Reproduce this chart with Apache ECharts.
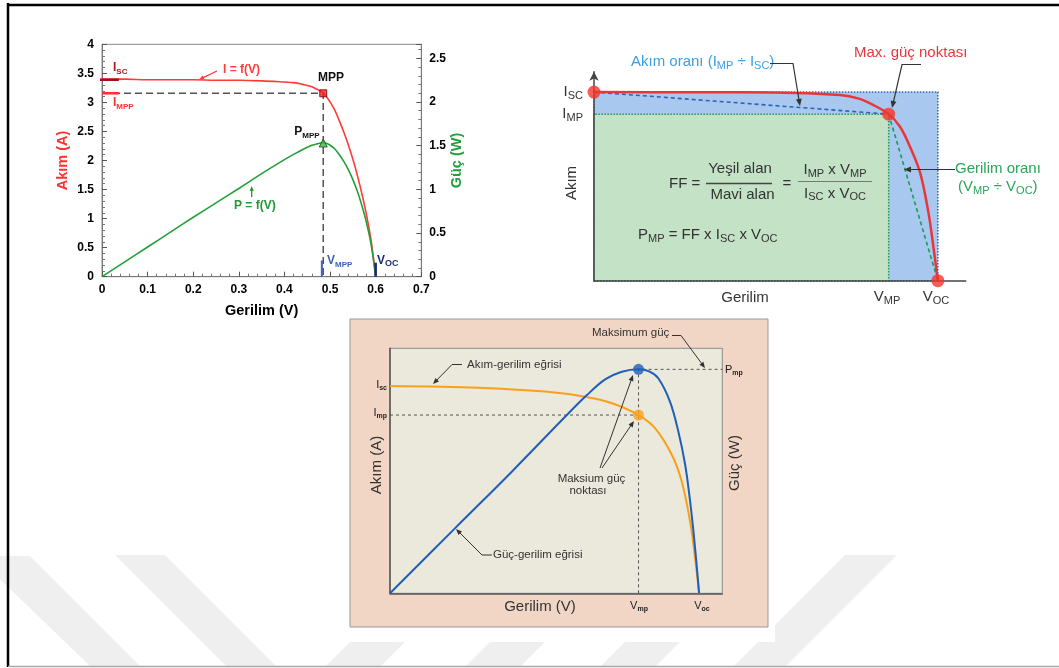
<!DOCTYPE html>
<html>
<head>
<meta charset="utf-8">
<style>
  html, body { margin: 0; padding: 0; background: #fff; }
  #chart { width: 1059px; height: 668px; }
</style>
<script src="https://cdn.jsdelivr.net/npm/echarts@6/dist/echarts.min.js"></script>
</head>
<body>
<div id="chart"></div>
<script>
// --- Grafik 1: ölçülü I-V ve P-V eğrileri ---
const gerilim1 = [0, 0.05, 0.1, 0.15, 0.2, 0.25, 0.3, 0.35, 0.4, 0.42, 0.44, 0.46, 0.47, 0.48, 0.485, 0.49, 0.5, 0.51, 0.52, 0.53, 0.54, 0.55, 0.56, 0.57, 0.58, 0.59, 0.6];
const akim1 = [3.40, 3.40, 3.39, 3.39, 3.39, 3.38, 3.38, 3.37, 3.35, 3.34, 3.31, 3.27, 3.23, 3.19, 3.16, 3.12, 3.01, 2.87, 2.69, 2.49, 2.27, 2.02, 1.74, 1.42, 1.06, 0.62, 0];
const guc1 = [0, 0.17, 0.34, 0.51, 0.68, 0.845, 1.01, 1.18, 1.34, 1.40, 1.456, 1.504, 1.518, 1.531, 1.533, 1.529, 1.505, 1.464, 1.399, 1.32, 1.226, 1.111, 0.974, 0.809, 0.615, 0.366, 0];
const mpp1 = { v: 0.485, i: 3.157, p: 1.53 };
const isc1 = 3.39, voc1 = 0.6;

// --- Grafik 2: doluluk faktörü (birimsiz) ---
const gerilim2 = [0, 0.3, 0.522, 0.716, 0.77, 0.813, 0.857, 0.89, 0.919, 0.949, 0.973, 0.987, 1.0];
const akim2 = [1.0, 0.999, 0.998, 0.984, 0.965, 0.931, 0.883, 0.816, 0.71, 0.569, 0.357, 0.18, 0];
const isc2 = 1.0, voc2 = 1.0, vmp2 = 0.857, imp2 = 0.883;

// --- Grafik 3: akım-gerilim ve güç-gerilim (birimsiz) ---
const gerilim3I = [0, 0.286, 0.502, 0.631, 0.718, 0.804, 0.858, 0.912, 0.944, 0.971, 0.987, 1.0];
const akim3 = [1.0, 0.992, 0.973, 0.948, 0.917, 0.86, 0.796, 0.667, 0.538, 0.345, 0.169, 0];
const gerilim3P = [0, 0.21, 0.394, 0.572, 0.637, 0.696, 0.75, 0.804, 0.84, 0.868, 0.906, 0.933, 0.955, 0.971, 0.985, 1.0];
const guc3 = [0, 0.29, 0.543, 0.796, 0.885, 0.955, 0.989, 1.0, 0.99, 0.96, 0.855, 0.721, 0.573, 0.409, 0.23, 0];
const vmp3 = 0.804, imp3 = 0.86, pmp3 = 1.0;

const FONT = 'Liberation Sans, Arial, sans-serif';

function zip(a, b) { return a.map((v, k) => [v, b[k]]); }

// parça dizisi: [ana, alt, ana, alt, ...]
function rt(parts) {
  return parts.map((t, k) => t ? '{' + (k % 2 ? 's' : 'm') + '|' + t + '}' : '').join('');
}

function txt(x, y, parts, o) {
  o = o || {};
  const fs = o.size || 15, ss = o.sub || Math.round(fs * 0.72);
  const w = o.bold ? 'bold' : 'normal';
  const col = o.color || '#333';
  return {
    type: 'text', x: x, y: y, z: 100, rotation: o.rot || 0,
    style: {
      text: rt(parts), align: o.align || 'left', verticalAlign: 'middle',
      fill: col, fontFamily: FONT, fontSize: fs, fontWeight: w,
      rich: {
        m: { fontSize: fs, fontWeight: w, fill: col, fontFamily: FONT, lineHeight: fs + 3, verticalAlign: 'middle' },
        s: { fontSize: ss, fontWeight: o.subBold ? 'bold' : w, fill: col, fontFamily: FONT, lineHeight: ss - 1, verticalAlign: 'bottom' }
      }
    }
  };
}

function arrow(pts, color, w, head) {
  const h = head || 7, hw = h * 0.42;
  const [x1, y1] = pts[pts.length - 2], [x2, y2] = pts[pts.length - 1];
  const a = Math.atan2(y2 - y1, x2 - x1);
  const c = Math.cos(a), s = Math.sin(a);
  const p1 = [x2 - h * c + hw * s, y2 - h * s - hw * c];
  const p2 = [x2 - h * c - hw * s, y2 - h * s + hw * c];
  const line = pts.slice(0, -1).concat([[x2 - h * 0.8 * c, y2 - h * 0.8 * s]]);
  return [
    { type: 'polyline', z: 100, shape: { points: line }, style: { stroke: color, lineWidth: w || 1.2, fill: null } },
    { type: 'polygon', z: 100, shape: { points: [[x2, y2], p1, p2] }, style: { fill: color } }
  ];
}

function stripe(pts) {
  return { type: 'polygon', z: -10, silent: true, shape: { points: pts }, style: { fill: '#efefef' } };
}

const g = [];
// filigran şeritleri
g.push(stripe([[-24, 556], [30, 556], [141, 667], [91, 667]]));
g.push(stripe([[115, 555], [165, 555], [277, 667], [227, 667]]));
g.push(stripe([[437, 555], [492, 555], [380, 667], [325, 667]]));
g.push(stripe([[577, 555], [632, 555], [520, 667], [465, 667]]));
g.push(stripe([[712, 555], [767, 555], [655, 667], [600, 667]]));
g.push(stripe([[845, 555], [897, 555], [785, 667], [733, 667]]));
// üçüncü resmin beyaz zemini ve kutusu
g.push({ type: 'rect', z: -9, silent: true, shape: { x: 340, y: 312, width: 435, height: 330 }, style: { fill: '#fff' } });
g.push({ type: 'rect', z: -8, silent: true, shape: { x: 350, y: 319, width: 418, height: 308 }, style: { fill: '#f1d6c6', stroke: '#9a9a9a', lineWidth: 1 } });
// çerçeve
g.push({ type: 'line', z: 100, shape: { x1: 8, y1: 3, x2: 8, y2: 667 }, style: { stroke: '#000', lineWidth: 2.5 } });
g.push({ type: 'line', z: 100, shape: { x1: 7, y1: 5, x2: 1059, y2: 5 }, style: { stroke: '#000', lineWidth: 2.5 } });
g.push({ type: 'line', z: 100, shape: { x1: 8, y1: 666.5, x2: 1059, y2: 666.5 }, style: { stroke: '#a8a8a8', lineWidth: 1.5 } });

// Grafik 1 yazıları
g.push(txt(113, 68, ['I', 'SC'], { size: 12, sub: 8, bold: true, color: '#b0161b' }));
g.push(txt(113, 103, ['I', 'MPP'], { size: 12, sub: 8, bold: true, color: '#ff3030' }));
g.push(txt(331, 78, ['MPP'], { size: 12, bold: true, color: '#111', align: 'center' }));
g.push(txt(307, 132, ['P', 'MPP'], { size: 12, sub: 8, bold: true, color: '#111', align: 'center' }));
g.push(txt(223, 70, ['I = f(V)'], { size: 12, bold: true, color: '#ff3b3b' }));
g.push(...arrow([[217, 71], [199, 79.5]], '#ff3b3b', 1.3, 5));
g.push(txt(234, 206, ['P = f(V)'], { size: 12, bold: true, color: '#1f9a35' }));
g.push(...arrow([[251.7, 197], [251.7, 186]], '#1f9a35', 1.3, 5));
g.push(txt(327, 261, ['V', 'MPP'], { size: 12, sub: 8, bold: true, color: '#3b62b8' }));
g.push(txt(377, 261, ['V', 'OC'], { size: 12, sub: 9, bold: true, color: '#1d2f70' }));

// Grafik 2 yazıları
g.push(txt(583, 92, ['I', 'SC'], { align: 'right' }));
g.push(txt(583, 114, ['I', 'MP'], { align: 'right' }));
g.push(txt(571.5, 183, ['Akım'], { rot: Math.PI / 2, align: 'center' }));
g.push(txt(745, 298, ['Gerilim'], { align: 'center' }));
g.push(txt(887, 297, ['V', 'MP'], { align: 'center' }));
g.push(txt(936, 297, ['V', 'OC'], { align: 'center' }));
g.push(txt(631, 62, ['Akım oranı (I', 'MP', ' ÷ I', 'SC', ')'], { color: '#3d9fe0' }));
g.push(...arrow([[770, 63.5], [793, 63.5], [800, 106]], '#333', 1.2, 7));
g.push(txt(854, 53, ['Max. güç noktası'], { color: '#e8373a' }));
g.push(...arrow([[921, 64.5], [902, 64.5], [892, 108]], '#333', 1.2, 7));
g.push(txt(955, 169, ['Gerilim oranı'], { color: '#2aa55a' }));
g.push(txt(958, 187, ['(V', 'MP', ' ÷ V', 'OC', ')'], { color: '#2aa55a' }));
g.push(...arrow([[955, 169.5], [904, 169.5]], '#333', 1.2, 7));
g.push(txt(669, 184, ['FF ='], {}));
g.push(txt(740, 169, ['Yeşil alan'], { align: 'center' }));
g.push({ type: 'line', z: 100, shape: { x1: 706, y1: 183.5, x2: 772, y2: 183.5 }, style: { stroke: '#444', lineWidth: 1.3 } });
g.push(txt(742.5, 194.5, ['Mavi alan'], { align: 'center' }));
g.push(txt(787, 184, ['='], { align: 'center' }));
g.push(txt(835, 170, ['I', 'MP', ' x V', 'MP'], { align: 'center' }));
g.push({ type: 'line', z: 100, shape: { x1: 798, y1: 181.5, x2: 872, y2: 181.5 }, style: { stroke: '#777', lineWidth: 1 } });
g.push(txt(835, 193.5, ['I', 'SC', ' x V', 'OC'], { align: 'center' }));
g.push(txt(638, 235, ['P', 'MP', ' = FF x I', 'SC', ' x V', 'OC'], {}));

// Grafik 3 yazıları
g.push(txt(387, 385, ['I', 'sc'], { size: 11, sub: 7, subBold: true, color: '#222', align: 'right' }));
g.push(txt(387, 413, ['I', 'mp'], { size: 11, sub: 7, subBold: true, color: '#222', align: 'right' }));
g.push(txt(725, 370, ['P', 'mp'], { size: 11, sub: 7, subBold: true, color: '#222' }));
g.push(txt(639, 606, ['V', 'mp'], { size: 11, sub: 7, subBold: true, color: '#222', align: 'center' }));
g.push(txt(702, 606, ['V', 'oc'], { size: 11, sub: 7, subBold: true, color: '#222', align: 'center' }));
g.push(txt(376.5, 465, ['Akım (A)'], { rot: Math.PI / 2, align: 'center' }));
g.push(txt(735, 463, ['Güç (W)'], { rot: Math.PI / 2, align: 'center' }));
g.push(txt(540, 607, ['Gerilim (V)'], { align: 'center' }));
g.push(txt(592, 332.5, ['Maksimum güç'], { size: 11.5 }));
g.push(...arrow([[672, 335.5], [681, 335.5], [705, 368]], '#333', 1, 6));
g.push(txt(467, 364.5, ['Akım-gerilim eğrisi'], { size: 11.5 }));
g.push(...arrow([[462, 364.5], [452, 364.5], [433, 384]], '#333', 1, 6));
g.push(txt(493, 555, ['Güç-gerilim eğrisi'], { size: 11.5 }));
g.push(...arrow([[492, 555], [482, 555], [456, 529]], '#333', 1, 6));
g.push(txt(591.5, 478.5, ['Maksium güç'], { size: 11.5, align: 'center' }));
g.push(txt(588, 491, ['noktası'], { size: 11.5, align: 'center' }));
g.push(...arrow([[600, 468], [633, 375]], '#333', 1, 6));
g.push(...arrow([[602, 468], [634, 421]], '#333', 1, 6));

const boldLabel = { fontFamily: FONT, fontWeight: 'bold', fontSize: 12, color: '#000' };
const hidden = { axisLabel: { show: false }, axisTick: { show: false }, splitLine: { show: false } };
const SMOOTH = 0.35;

const option = {
  animation: false,
  backgroundColor: '#fff',
  textStyle: { fontFamily: FONT },
  graphic: { elements: g },
  grid: [
    { left: 102, top: 44.3, width: 319.3, height: 232.4, show: true, borderColor: '#8a8a8a', borderWidth: 1 },
    { left: 594, top: 71.7, width: 371.7, height: 209, show: false },
    { left: 390, top: 348.3, width: 332.3, height: 245, show: true, backgroundColor: '#ebe8dc', borderColor: '#8a8a8a', borderWidth: 1 }
  ],
  xAxis: [
    {
      gridIndex: 0, type: 'value', min: 0, max: 0.7, interval: 0.1,
      name: 'Gerilim (V)', nameLocation: 'middle', nameGap: 27,
      nameTextStyle: { fontFamily: FONT, fontWeight: 'bold', fontSize: 14.5, color: '#000' },
      axisLine: { lineStyle: { color: '#777', width: 1 } },
      axisTick: { inside: true, length: 5, lineStyle: { color: '#555' } },
      minorTick: { show: true, splitNumber: 5, length: 3, lineStyle: { color: '#777' } },
      axisLabel: Object.assign({ margin: 7 }, boldLabel),
      splitLine: { show: false }
    },
    Object.assign({
      gridIndex: 1, type: 'value', min: 0, max: 1.081,
      axisLine: { lineStyle: { color: '#444', width: 1.5 } }, z: 5
    }, hidden),
    Object.assign({
      gridIndex: 2, type: 'value', min: 0, max: 1.075,
      axisLine: { lineStyle: { color: '#555', width: 1.5 } }
    }, hidden)
  ],
  yAxis: [
    {
      gridIndex: 0, type: 'value', min: 0, max: 4, interval: 0.5,
      name: 'Akım (A)', nameLocation: 'middle', nameGap: 32, nameRotate: 90,
      nameTextStyle: { fontFamily: FONT, fontWeight: 'bold', fontSize: 14.5, color: '#ff3030' },
      axisLine: { show: true, lineStyle: { color: '#777', width: 1 } },
      axisTick: { inside: true, length: 5, lineStyle: { color: '#555' } },
      minorTick: { show: true, splitNumber: 5, length: 3, lineStyle: { color: '#777' } },
      axisLabel: Object.assign({ margin: 8 }, boldLabel),
      splitLine: { show: false }
    },
    {
      gridIndex: 0, type: 'value', position: 'right', min: 0, max: 2.66, interval: 0.5,
      name: 'Güç (W)', nameLocation: 'middle', nameGap: 28, nameRotate: 90,
      nameTextStyle: { fontFamily: FONT, fontWeight: 'bold', fontSize: 14.5, color: '#1fa03a' },
      axisLine: { show: true, lineStyle: { color: '#777', width: 1 } },
      axisTick: { inside: true, length: 5, lineStyle: { color: '#555' } },
      minorTick: { show: true, splitNumber: 5, length: 3, lineStyle: { color: '#777' } },
      axisLabel: Object.assign({ margin: 8, showMaxLabel: false }, boldLabel),
      splitLine: { show: false }
    },
    Object.assign({
      gridIndex: 1, type: 'value', min: 0, max: 1.108, z: 5,
      axisLine: { show: true, symbol: ['none', 'arrow'], symbolSize: [7, 9], lineStyle: { color: '#444', width: 1.5 } }
    }, hidden),
    Object.assign({
      gridIndex: 2, type: 'value', min: 0, max: 1.182,
      axisLine: { show: true, lineStyle: { color: '#555', width: 1.5 } }
    }, hidden),
    Object.assign({
      gridIndex: 2, type: 'value', position: 'right', min: 0, max: 1.094,
      axisLine: { show: false }
    }, hidden)
  ],
  series: [
    // ---- Grafik 1 ----
    {
      type: 'line', xAxisIndex: 0, yAxisIndex: 0, z: 3, showSymbol: false,
      data: [[0, mpp1.i], [mpp1.v, mpp1.i], [mpp1.v, 0]],
      lineStyle: { color: '#555', width: 1.5, type: [7, 4] }
    },
    {
      type: 'line', xAxisIndex: 0, yAxisIndex: 0, z: 4, showSymbol: false, smooth: SMOOTH,
      data: zip(gerilim1, akim1), lineStyle: { color: '#ff3b3b', width: 1.6 }
    },
    {
      type: 'line', xAxisIndex: 0, yAxisIndex: 1, z: 4, showSymbol: false, smooth: SMOOTH,
      data: zip(gerilim1, guc1), lineStyle: { color: '#22a038', width: 1.6 }
    },
    {
      type: 'line', xAxisIndex: 0, yAxisIndex: 0, z: 5, showSymbol: false, clip: false,
      data: [[-0.007, isc1], [0.037, isc1]], lineStyle: { color: '#a01318', width: 2.5 }
    },
    {
      type: 'line', xAxisIndex: 0, yAxisIndex: 0, z: 5, showSymbol: false,
      data: [[0, mpp1.i], [0.037, mpp1.i]], lineStyle: { color: '#ff3030', width: 2.5 }
    },
    {
      type: 'line', xAxisIndex: 0, yAxisIndex: 0, z: 5, showSymbol: false,
      data: [[mpp1.v - 0.003, 0], [mpp1.v - 0.003, 0.28]], lineStyle: { color: '#3b62b8', width: 2 }
    },
    {
      type: 'line', xAxisIndex: 0, yAxisIndex: 0, z: 5, showSymbol: false,
      data: [[voc1, 0], [voc1, 0.24]], lineStyle: { color: '#1b2a6e', width: 2.5 }
    },
    {
      type: 'scatter', xAxisIndex: 0, yAxisIndex: 0, z: 6, symbol: 'rect', symbolSize: 7,
      data: [[mpp1.v, mpp1.i]], itemStyle: { color: '#ff2020', borderColor: '#7a0000', borderWidth: 1 }
    },
    {
      type: 'scatter', xAxisIndex: 0, yAxisIndex: 1, z: 6, symbol: 'triangle', symbolSize: 8,
      data: [[mpp1.v, mpp1.p]], itemStyle: { color: '#40b840', borderColor: '#105010', borderWidth: 1 }
    },
    // ---- Grafik 2 ----
    {
      type: 'line', xAxisIndex: 1, yAxisIndex: 2, z: 1, showSymbol: false, data: [],
      markArea: {
        silent: true,
        data: [
          [{ coord: [0, 0], itemStyle: { color: '#a8c8ef', borderColor: '#2f62b5', borderType: 'dotted', borderWidth: 1.5 } }, { coord: [voc2, isc2] }],
          [{ coord: [0, 0], itemStyle: { color: '#c4e2c6', borderColor: '#1f9a55', borderType: 'dotted', borderWidth: 1.5 } }, { coord: [vmp2, imp2] }]
        ]
      }
    },
    {
      type: 'line', xAxisIndex: 1, yAxisIndex: 2, z: 3, showSymbol: false,
      data: [[0, isc2], [vmp2, imp2]], lineStyle: { color: '#2f62b5', width: 1.6, type: [4, 3] }
    },
    {
      type: 'line', xAxisIndex: 1, yAxisIndex: 2, z: 3, showSymbol: false,
      data: [[vmp2, imp2], [voc2, 0]], lineStyle: { color: '#1f9a55', width: 1.6, type: [4, 3] }
    },
    {
      type: 'line', xAxisIndex: 1, yAxisIndex: 2, z: 4, showSymbol: false, smooth: SMOOTH,
      data: zip(gerilim2, akim2), lineStyle: { color: '#e8373a', width: 2.5 }
    },
    {
      type: 'scatter', xAxisIndex: 1, yAxisIndex: 2, z: 6, symbolSize: 13, clip: false,
      data: [[0, isc2], [vmp2, imp2], [voc2, 0]], itemStyle: { color: '#f2352b' }
    },
    // ---- Grafik 3 ----
    {
      type: 'line', xAxisIndex: 2, yAxisIndex: 3, z: 3, showSymbol: false,
      data: [[0, imp3], [vmp3, imp3]], lineStyle: { color: '#555', width: 1, type: [3, 3] }
    },
    {
      type: 'line', xAxisIndex: 2, yAxisIndex: 4, z: 3, showSymbol: false,
      data: [[vmp3, 0], [vmp3, pmp3], [1.075, pmp3]], lineStyle: { color: '#555', width: 1, type: [3, 3] }
    },
    {
      type: 'line', xAxisIndex: 2, yAxisIndex: 3, z: 4, showSymbol: false, smooth: SMOOTH,
      data: zip(gerilim3I, akim3), lineStyle: { color: '#f7a11a', width: 2 }
    },
    {
      type: 'line', xAxisIndex: 2, yAxisIndex: 4, z: 4, showSymbol: false, smooth: SMOOTH,
      data: zip(gerilim3P, guc3), lineStyle: { color: '#1f5fb6', width: 2 }
    },
    {
      type: 'scatter', xAxisIndex: 2, yAxisIndex: 3, z: 6, symbolSize: 11,
      data: [[vmp3, imp3]], itemStyle: { color: '#f7a11a' }
    },
    {
      type: 'scatter', xAxisIndex: 2, yAxisIndex: 4, z: 6, symbolSize: 11,
      data: [[vmp3, pmp3]], itemStyle: { color: '#1f5fb6' }
    }
  ]
};

const myChart = echarts.init(document.getElementById('chart'), null, { renderer: 'canvas' });
myChart.setOption(option);
window.onresize = function () { myChart.resize(); };
</script>
</body>
</html>
